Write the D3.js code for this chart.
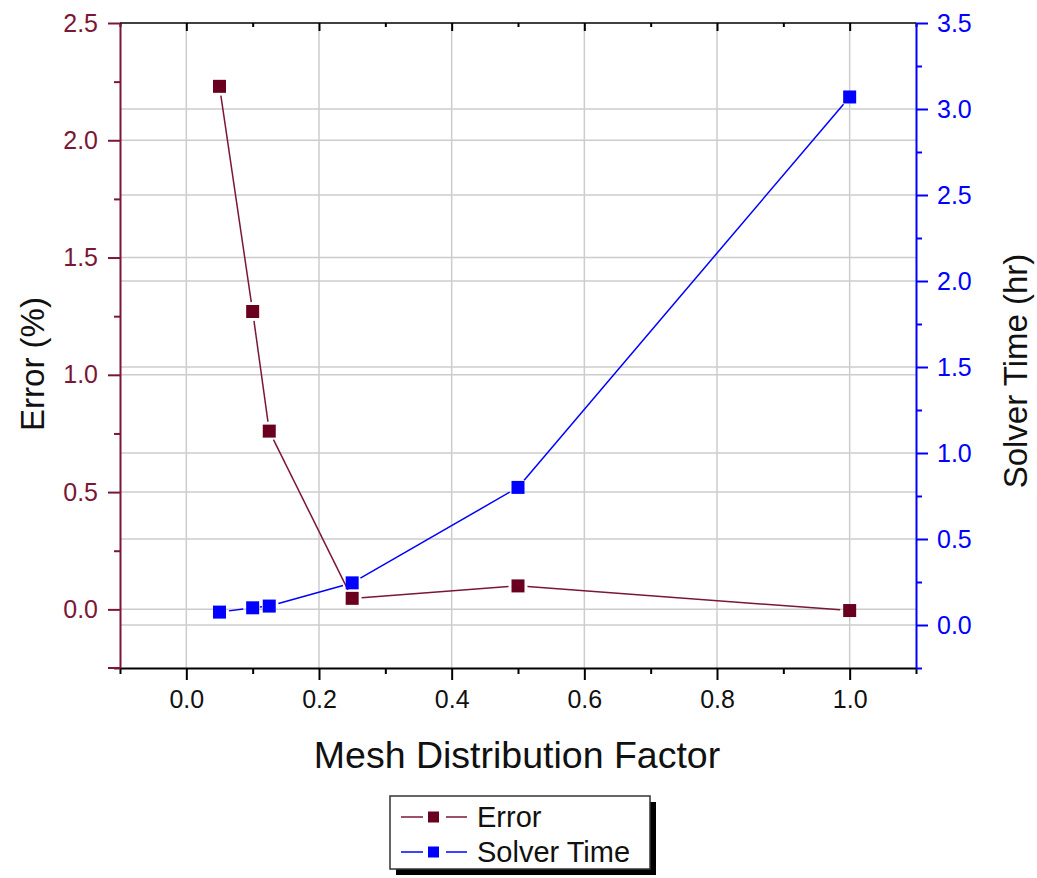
<!DOCTYPE html>
<html>
<head>
<meta charset="utf-8">
<script src="https://cdn.jsdelivr.net/npm/d3@7"></script>
<style>
  body { margin: 0; background: #fff; }
  svg { font-family: "Liberation Sans", Arial, sans-serif; }
</style>
</head>
<body>
<svg id="chart" width="1037" height="878"></svg>
<script>
// data
const meshFactor = [0.05, 0.1, 0.125, 0.25, 0.5, 1.0];
const errorPct = [2.23, 1.27, 0.76, 0.047, 0.10, -0.005];
const solverHr = [0.075, 0.10, 0.11, 0.245, 0.80, 3.07];

const xTicks = [0, 0.2, 0.4, 0.6, 0.8, 1.0];
const errTicks = [0, 0.5, 1.0, 1.5, 2.0, 2.5];
const timeTicks = [0, 0.5, 1.0, 1.5, 2.0, 2.5, 3.0, 3.5];

const errColor = '#7a1736', errMarker = '#6a0020', timeColor = '#0000ff';
const m = {left: 120, right: 916, top: 23, bottom: 668};
const tickFont = 25;

const svg = d3.select('#chart');

const x = d3.scaleLinear().domain([-0.1, 1.1]).range([m.left, m.right]);
const yErr = d3.scaleLinear().domain([-0.25, 2.5]).range([m.bottom, m.top]);
const yTime = d3.scaleLinear().domain([-0.25, 3.5]).range([m.bottom, m.top]);

// grid
const grid = svg.append('g').attr('stroke', '#cccccc').attr('stroke-width', 1.5);
grid.selectAll('line.vx').data(xTicks).join('line')
  .attr('x1', d => x(d)).attr('x2', d => x(d)).attr('y1', m.top).attr('y2', m.bottom);
grid.selectAll('line.he').data(errTicks.filter(d => d < 2.5)).join('line')
  .attr('x1', m.left).attr('x2', m.right).attr('y1', d => yErr(d)).attr('y2', d => yErr(d));
grid.selectAll('line.ht').data(timeTicks.filter(d => d < 3.5)).join('line')
  .attr('x1', m.left).attr('x2', m.right).attr('y1', d => yTime(d)).attr('y2', d => yTime(d));

// frame top
svg.append('line').attr('x1', m.left).attr('x2', m.right).attr('y1', m.top).attr('y2', m.top)
  .attr('stroke', '#000').attr('stroke-width', 1.5);

function styleAxis(g, color) {
  g.attr('font-family', null).attr('font-size', null);
  g.selectAll('path').attr('stroke', color).attr('stroke-width', 2);
  g.selectAll('line').attr('stroke', color).attr('stroke-width', 2);
  g.selectAll('text').attr('fill', color).style('font-size', tickFont + 'px');
}

// bottom axis (major + minor)
const xMinor = d3.range(-0.1, 1.1001, 0.1).map(d => +d.toFixed(2)).filter(d => !xTicks.includes(d));
const gxMinor = svg.append('g').attr('transform', `translate(0,${m.bottom})`)
  .call(d3.axisBottom(x).tickValues(xMinor).tickSize(6).tickFormat(''));
gxMinor.select('path').remove();
styleAxis(gxMinor, '#000');
const gx = svg.append('g').attr('transform', `translate(0,${m.bottom})`)
  .call(d3.axisBottom(x).tickValues(xTicks).tickSize(12).tickSizeOuter(0).tickPadding(10).tickFormat(d3.format('.1f')));
styleAxis(gx, '#000');
gx.selectAll('text').attr('fill', '#111');

// top inward ticks
const gxt = svg.append('g').attr('transform', `translate(0,${m.top})`)
  .call(d3.axisBottom(x).tickValues(xTicks).tickSize(8).tickFormat(''));
gxt.select('path').remove();
styleAxis(gxt, '#000');
const gxt2 = svg.append('g').attr('transform', `translate(0,${m.top})`)
  .call(d3.axisBottom(x).tickValues(xMinor).tickSize(4).tickFormat(''));
gxt2.select('path').remove();
styleAxis(gxt2, '#000');

// left axis
const errMinor = d3.range(-0.25, 2.5, 0.5);
const gyl2 = svg.append('g').attr('transform', `translate(${m.left},0)`)
  .call(d3.axisLeft(yErr).tickValues(errMinor).tickSize(6).tickFormat(''));
gyl2.select('path').remove();
styleAxis(gyl2, errColor);
const gyl = svg.append('g').attr('transform', `translate(${m.left},0)`)
  .call(d3.axisLeft(yErr).tickValues(errTicks).tickSize(12).tickSizeOuter(0).tickPadding(10).tickFormat(d3.format('.1f')));
styleAxis(gyl, errColor);
gyl.append('line').attr('x1', -12).attr('x2', 0).attr('y1', m.bottom).attr('y2', m.bottom)
  .attr('stroke', errColor).attr('stroke-width', 2);

// right axis
const timeMinor = d3.range(-0.25, 3.5, 0.5);
const gyr2 = svg.append('g').attr('transform', `translate(${m.right},0)`)
  .call(d3.axisRight(yTime).tickValues(timeMinor).tickSize(6).tickFormat(''));
gyr2.select('path').remove();
styleAxis(gyr2, timeColor);
const gyr = svg.append('g').attr('transform', `translate(${m.right},0)`)
  .call(d3.axisRight(yTime).tickValues(timeTicks).tickSize(12).tickSizeOuter(0).tickPadding(9).tickFormat(d3.format('.1f')));
styleAxis(gyr, timeColor);

// series: segments with a small gap at each marker
const ms = 13;
function drawSeries(ys, yScale, lineColor, markColor) {
  const pts = meshFactor.map((d, i) => [x(d), yScale(ys[i])]);
  const gap = ms / 2 + 3;
  const segs = d3.pairs(pts).map(([a, b]) => {
    const dx = b[0] - a[0], dy = b[1] - a[1], len = Math.hypot(dx, dy);
    const ux = dx / len, uy = dy / len;
    return [[a[0] + ux * gap, a[1] + uy * gap], [b[0] - ux * gap, b[1] - uy * gap]];
  });
  const g = svg.append('g');
  g.selectAll('path').data(segs).join('path')
    .attr('d', d3.line())
    .attr('stroke', lineColor).attr('stroke-width', 1.5).attr('fill', 'none');
  return {g, pts, markColor};
}
const sErr = drawSeries(errorPct, yErr, errColor, errMarker);
const sTime = drawSeries(solverHr, yTime, timeColor, timeColor);
[sErr, sTime].forEach(s => {
  s.g.selectAll('rect').data(s.pts).join('rect')
    .attr('x', d => d[0] - ms / 2).attr('y', d => d[1] - ms / 2)
    .attr('width', ms).attr('height', ms).attr('fill', s.markColor);
});

// axis titles
svg.append('text').attr('transform', `translate(44,364) rotate(-90)`)
  .attr('text-anchor', 'middle').attr('font-size', 33).attr('fill', '#111').text('Error (%)');
svg.append('text').attr('transform', `translate(1027,371) rotate(-90)`)
  .attr('text-anchor', 'middle').attr('font-size', 33).attr('fill', '#111').text('Solver Time (hr)');
svg.append('text').attr('x', 517).attr('y', 768)
  .attr('text-anchor', 'middle').attr('font-size', 37.5).attr('fill', '#111').text('Mesh Distribution Factor');

// legend
const legend = [
  {name: 'Error', line: errColor, mark: errMarker},
  {name: 'Solver Time', line: timeColor, mark: timeColor}
];
const lg = svg.append('g').attr('transform', 'translate(390,796)');
lg.append('rect').attr('x', 6).attr('y', 6).attr('width', 260).attr('height', 73).attr('fill', '#000');
lg.append('rect').attr('x', 0).attr('y', 0).attr('width', 260).attr('height', 73)
  .attr('fill', '#fff').attr('stroke', '#333').attr('stroke-width', 1.5);
legend.forEach((d, i) => {
  const cy = 21 + i * 35;
  const row = lg.append('g').attr('transform', `translate(0,${cy})`);
  row.append('line').attr('x1', 11).attr('x2', 33).attr('stroke', d.line).attr('stroke-width', 1.5);
  row.append('line').attr('x1', 56).attr('x2', 77).attr('stroke', d.line).attr('stroke-width', 1.5);
  row.append('rect').attr('x', 38).attr('y', -5.5).attr('width', 11).attr('height', 11).attr('fill', d.mark);
  row.append('text').attr('x', 87).attr('y', 10).attr('font-size', 29).attr('fill', '#111').text(d.name);
});
</script>
</body>
</html>
